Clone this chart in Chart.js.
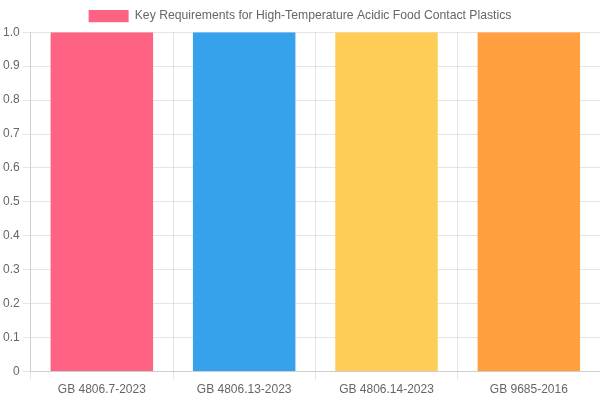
<!DOCTYPE html>
<html>
<head>
<meta charset="utf-8">
<script src="https://cdn.jsdelivr.net/npm/chart.js@4"></script>
<style>
  html, body { margin: 0; padding: 0; background: #fff; }
  #wrap { width: 600px; height: 400px; }
</style>
</head>
<body>
<div id="wrap"><canvas id="chart"></canvas></div>
<script>
// data
var standards = ['GB 4806.7-2023', 'GB 4806.13-2023', 'GB 4806.14-2023', 'GB 9685-2016'];
var values = [1, 1, 1, 1];
var barColors = [
  'rgb(255, 99, 132)',
  'rgb(54, 162, 235)',
  'rgb(255, 205, 86)',
  'rgb(255, 159, 64)'
];

const ctx = document.getElementById('chart');
var chart = new Chart(ctx, {
  type: 'bar',
  data: {
    labels: standards,
    datasets: [{
      label: 'Key Requirements for High-Temperature Acidic Food Contact Plastics',
      data: values,
      backgroundColor: barColors,
      borderWidth: 0
    }]
  },
  options: {
    responsive: true,
    maintainAspectRatio: false,
    animation: false,
    plugins: {
      legend: { labels: { font: { size: 12.2 } } }
    },
    scales: {
      y: {
        min: 0,
        max: 1,
        ticks: { stepSize: 0.1 }
      }
    }
  }
});
</script>
</body>
</html>
